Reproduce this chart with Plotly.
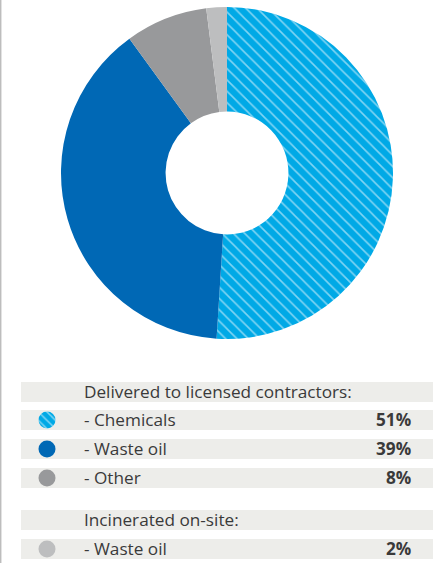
import plotly.graph_objects as go

W, H = 433, 563

# Hazardous waste breakdown (share of total, %)
labels = ["Chemicals", "Waste oil", "Other", "Waste oil (incinerated)"]
values = [51, 39, 8, 2]
colors = ["#00a9e6", "#0068b5", "#98999b", "#bdbebf"]
patterns = ["\\", "", "", ""]

# Table rows: (group heading or item label, value index or None)
rows = [
    ("Delivered to licensed contractors:", None),
    ("- Chemicals", 0),
    ("- Waste oil", 1),
    ("- Other", 2),
    ("Incinerated on-site:", None),
    ("- Waste oil", 3),
]
row_tops = [382, 410, 439, 468, 510, 539]
row_h = 20


def px_x(x):
    return x / W


def px_y(y):
    return 1 - y / H


fig = go.Figure()

# Main donut
cx, cy, r = 227, 173, 166
fig.add_trace(go.Pie(
    values=values,
    labels=labels,
    sort=False,
    direction="clockwise",
    rotation=0,
    hole=0.37,
    textinfo="none",
    hoverinfo="label+percent",
    marker=dict(
        colors=colors,
        line=dict(width=0),
        pattern=dict(shape=patterns, fgcolor="white", bgcolor=colors[0],
                     size=8, solidity=0.2, fillmode="overlay"),
    ),
    domain=dict(x=[px_x(cx - r), px_x(cx + r)], y=[px_y(cy + r), px_y(cy - r)]),
    showlegend=False,
))

shapes = [
    # thin rule down the left edge
    dict(type="line", xref="paper", yref="paper", x0=0.001, x1=0.001, y0=0, y1=1,
         line=dict(color="#bdbdbd", width=2)),
]
annotations = []
font = dict(family="Open Sans", size=17.2, color="#3a3a3a")

for (text, idx), top in zip(rows, row_tops):
    shapes.append(dict(type="rect", xref="paper", yref="paper",
                       x0=px_x(21), x1=px_x(433), y0=px_y(top + row_h), y1=px_y(top),
                       fillcolor="#ededea", line=dict(width=0), layer="below"))
    yc = px_y(top + row_h / 2 - 0.5)
    annotations.append(dict(text=text, x=px_x(82), y=yc, xref="paper", yref="paper",
                            xanchor="left", yanchor="middle", showarrow=False, font=font))
    if idx is not None:
        annotations.append(dict(text=f"<b>{values[idx]}%</b>", x=px_x(413), y=yc,
                                xref="paper", yref="paper", xanchor="right",
                                yanchor="middle", showarrow=False, font=font))
        # legend dot as a one-slice pie so it can carry the same fill pattern
        d = 8.5
        ymid = top + row_h / 2
        fig.add_trace(go.Pie(
            values=[1],
            sort=False,
            textinfo="none",
            hoverinfo="skip",
            marker=dict(colors=[colors[idx]], line=dict(width=0),
                        pattern=dict(shape=patterns[idx], fgcolor="white",
                                     bgcolor=colors[idx], size=6, solidity=0.25,
                                     fillmode="overlay")),
            domain=dict(x=[px_x(47 - d), px_x(47 + d)], y=[px_y(ymid + d), px_y(ymid - d)]),
            showlegend=False,
        ))

fig.update_layout(
    width=W, height=H,
    margin=dict(l=0, r=0, t=0, b=0),
    paper_bgcolor="white",
    plot_bgcolor="white",
    shapes=shapes,
    annotations=annotations,
)

fig.write_html("out.html")
